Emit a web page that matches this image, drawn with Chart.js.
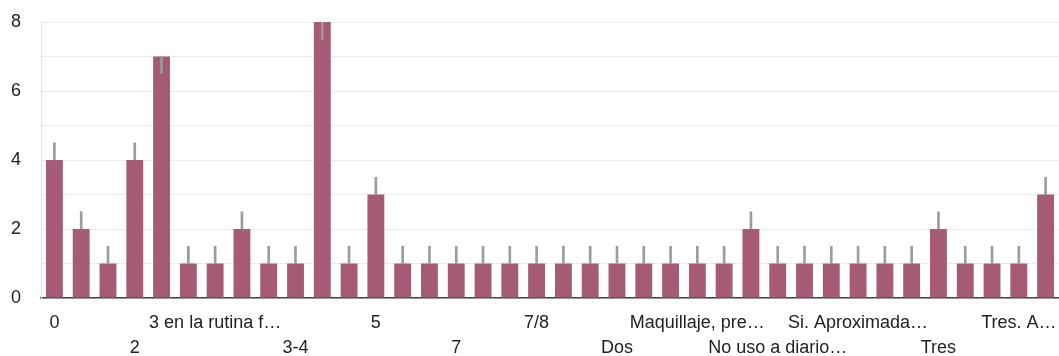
<!DOCTYPE html>
<html>
<head>
<meta charset="utf-8">
<script src="https://cdn.jsdelivr.net/npm/chart.js@4/dist/chart.umd.min.js"></script>
<style>
  body { margin: 0; background: #fff; }
  #wrap { width: 1059px; height: 356px; }
</style>
</head>
<body>
<div id="wrap"><canvas id="chart"></canvas></div>
<script>
// ---------- DATA ----------
const categories = [
  "0", "1", "1-2", "2", "3", "3 a 4", "3 en la rutina f…", "3 o 4", "3 o más", "3-4",
  "4", "4-5", "5", "5-6", "6", "7", "7 u 8", "7-8", "7/8", "8",
  "Cuatro", "Dos", "Dos o tres", "Entre 3 y 5", "Maquillaje, pre…", "Más de 5", "Ninguno",
  "No uso a diario…", "Normalmente 3", "Por lo general…", "Si. Aproximada…", "Siete",
  "Suelen ser 3", "Tres", "Tres o cuatro", "Tres y a veces…", "Tres. A…", "Uno"
];
const counts = [
  4, 2, 1, 4, 7, 1, 1, 2, 1, 1,
  8, 1, 3, 1, 1, 1, 1, 1, 1, 1,
  1, 1, 1, 1, 1, 1, 2, 1, 1, 1,
  1, 1, 1, 2, 1, 1, 1, 3
];
// interval marks (gray whiskers)
const errLow = [
  4, 2, 1, 4, 6.5, 1, 1, 2, 1, 1,
  7.5, 1, 3, 1, 1, 1, 1, 1, 1, 1,
  1, 1, 1, 1, 1, 1, 2, 1, 1, 1,
  1, 1, 1, 2, 1, 1, 1, 3
];
const errHigh = [
  4.5, 2.5, 1.5, 4.5, 7, 1.5, 1.5, 2.5, 1.5, 1.5,
  8, 1.5, 3.5, 1.5, 1.5, 1.5, 1.5, 1.5, 1.5, 1.5,
  1.5, 1.5, 1.5, 1.5, 1.5, 1.5, 2.5, 1.5, 1.5, 1.5,
  1.5, 1.5, 1.5, 2.5, 1.5, 1.5, 1.5, 3.5
];
const yTicks = [0, 2, 4, 6, 8];

// ---------- CHART ----------
Chart.defaults.font.family = "'Liberation Sans', Arial, sans-serif";
Chart.defaults.color = "#222";

new Chart(document.getElementById("chart"), {
  type: "bar",
  data: {
    labels: categories,
    datasets: [
      {
        label: "Intervalo",
        data: errLow.map((lo, i) => [lo, errHigh[i]]),
        backgroundColor: "#9c9c9c",
        barThickness: 2,
        grouped: false,
        order: 0
      },
      {
        label: "Recuento",
        data: counts,
        backgroundColor: "#a55a75",
        barPercentage: 0.63,
        categoryPercentage: 1,
        grouped: false,
        order: 1
      }
    ]
  },
  options: {
    responsive: true,
    maintainAspectRatio: false,
    animation: false,
    layout: { padding: { top: 22, right: 0, left: 0, bottom: 0 } },
    plugins: { legend: { display: false }, tooltip: { enabled: false } },
    scales: {
      x: {
        grid: { display: false },
        border: { color: "#444", width: 1.5 },
        ticks: {
          autoSkip: false,
          maxRotation: 0,
          padding: 5,
          font: { size: 18, lineHeight: 1.38 },
          callback: function (v, i) {
            if (i % 3 !== 0) return "";
            const lab = categories[i];
            return (i / 3) % 2 === 0 ? [lab, ""] : ["", lab];
          }
        },
        afterFit: s => { s.height = 58; s.paddingTop = 0; }
      },
      y: {
        min: 0,
        max: 8,
        grid: { color: "#ebebeb", drawTicks: false, lineWidth: 1 },
        border: { color: "#e6e6e6" },
        ticks: {
          stepSize: 1,
          padding: 20,
          font: { size: 18 },
          callback: v => (yTicks.includes(v) ? v : "")
        },
        afterFit: s => { s.width = 41; s.paddingTop = 0; s.paddingBottom = 0; }
      }
    }
  }
});
</script>
</body>
</html>
